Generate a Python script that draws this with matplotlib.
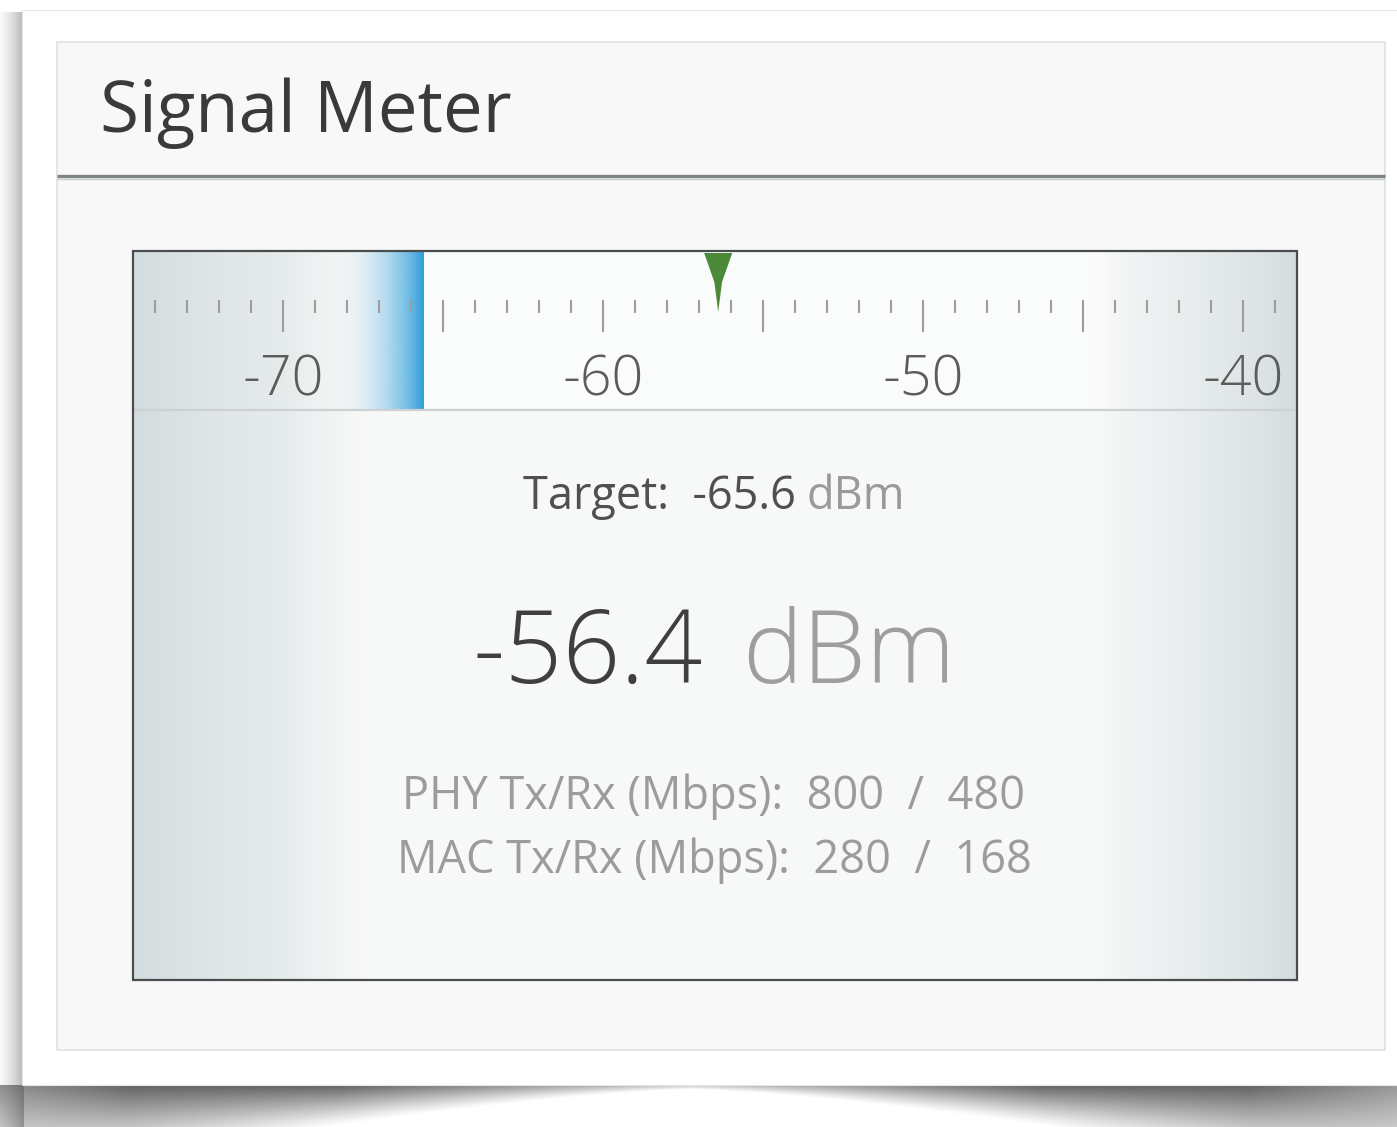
import numpy as np
import matplotlib.pyplot as plt
from matplotlib.patches import Rectangle, Polygon
from matplotlib.colors import to_rgb

# values read from the widget
title = "Signal Meter"
scale_range = (-74.7, -38.3)          # dBm visible on the meter
major_ticks = [-70, -60, -50, -40]
signal_dbm = -56.4
target_dbm = -65.6
phy_rates = (800, 480)
mac_rates = (280, 168)

FONT = ['Open Sans', 'DejaVu Sans']
W, H = 1397, 1127

fig = plt.figure(figsize=(W / 100, H / 100), dpi=100)
bg = fig.add_axes([0, 0, 1, 1])
bg.set_xlim(0, W)
bg.set_ylim(H, 0)
bg.axis('off')

# --- card with drop shadows ---
sx = np.linspace(0, 1, 40)
left_sh = np.zeros((2, 40, 4))
left_sh[..., :3] = 0.35
left_sh[..., 3] = np.clip((sx - 0.25) / 0.75, 0, 1) ** 1.6 * 0.45
bg.imshow(left_sh, extent=(-16, 24, 1127, 12), aspect='auto', zorder=1)

xs = np.arange(W)
ys = np.arange(0, 42)
d = np.abs(xs - 690) / 700.0
thick = 4 + 95 * d ** 1.4
fall = np.clip(1 - ys[:, None] / thick[None, :], 0, 1) ** 1.2
amp = 0.3 + 0.55 * np.clip(d * 2.0, 0, 1)
amp = amp * np.where(d > 0.8, 1 - (d - 0.8) * 1.6, 1)
bot_sh = np.zeros((len(ys), W, 4))
bot_sh[..., :3] = 0.28
bot_sh[..., 3] = fall * amp[None, :]
bg.imshow(bot_sh, extent=(0, W, 1127, 1085), aspect='auto', zorder=1)

bg.add_patch(Rectangle((22, 10), W, 1075, fc='white', ec='#e6e6e6', lw=0.8, zorder=2))

# inner panel + header
bg.add_patch(Rectangle((57, 42), 1328, 1008, fc='#f8f8f8', ec='#e1e1e1', lw=1.2, zorder=3))
bg.plot([57, 1385], [176, 176], color='#7d8587', lw=2.4, zorder=4, solid_capstyle='butt')
bg.plot([57, 1385], [178.5, 178.5], color='#c9cecf', lw=1.0, zorder=4, solid_capstyle='butt')
bg.text(100, 132, title, family=FONT, fontsize=51, color='#3a3a3a', va='baseline', zorder=5)

# --- meter box ---
mx0, mx1, my0, my1 = 133, 1297, 251, 980
ax = fig.add_axes([mx0 / W, 1 - my1 / H, (mx1 - mx0) / W, (my1 - my0) / H])
ax.set_xlim(*scale_range)
ax.set_ylim(my1, my0)
ax.axis('off')


def px2v(px):
    return scale_range[0] + (px - mx0) / (mx1 - mx0) * (scale_range[1] - scale_range[0])


stops_px = [133, 175, 215, 285, 330, 365, 1100, 1150, 1200, 1250, 1297]
stops_c = ['#d3dcde', '#d9e1e3', '#e0e6e7', '#e6ebec', '#f2f4f4', '#f8f8f8',
           '#f7f8f8', '#edf1f1', '#e6ebec', '#dfe5e6', '#d4dcde']
gx = np.arange(mx0, mx1)
grad = np.stack([np.interp(gx, stops_px, [to_rgb(c)[k] for c in stops_c]) for k in range(3)], axis=-1)
ax.imshow(grad[None, :, :], extent=(scale_range[0], scale_range[1], my1, my0), aspect='auto', zorder=0)

# top strip slightly whiter in the middle
strip = np.ones((1, len(gx), 4))
strip[..., 3] = np.clip(np.interp(gx, [330, 420, 1080, 1130], [0, 0.5, 0.5, 0]), 0, 1)
ax.imshow(strip, extent=(scale_range[0], scale_range[1], 410, my0), aspect='auto', zorder=1)

# blue target bar
bx = np.linspace(0, 1, 200)
blue = np.zeros((1, 200, 4))
blue[..., :3] = to_rgb('#2f9fdb')
blue[..., 3] = bx ** 2.2
ax.imshow(blue, extent=(px2v(325), target_dbm, 410, my0), aspect='auto', zorder=2)

# scale ticks
minor = np.arange(-74, -38)
short = minor[minor % 5 != 0]
longt = minor[minor % 5 == 0]
ax.vlines(short, 300, 313, color='#9d9d9d', lw=1.5, zorder=3)
ax.vlines(longt, 300, 332, color='#9d9d9d', lw=1.5, zorder=3)
for v in major_ticks:
    ax.text(v, 381, str(v), family=FONT, fontsize=40, fontweight='light',
            color='#5c5c5c', ha='center', va='center', zorder=4)
ax.hlines(410, *scale_range, color='#cdd1d2', lw=1.6, zorder=4)

# signal marker
hw = 0.44
ax.add_patch(Polygon([(signal_dbm - hw, my0 + 2), (signal_dbm + hw, my0 + 2),
                      (signal_dbm + 0.12, 282), (signal_dbm, 312),
                      (signal_dbm - 0.12, 282)], closed=True,
                     fc='#4c8a3a', ec='none', zorder=5))

# overlay for border and readouts
top = fig.add_axes([0, 0, 1, 1])
top.set_xlim(0, W)
top.set_ylim(H, 0)
top.axis('off')
top.patch.set_alpha(0)
top.add_patch(Rectangle((mx0, my0), mx1 - mx0, my1 - my0, fc='none', ec='#4a4d4e', lw=1.6, zorder=6))

renderer = fig.canvas.get_renderer()


def line(xc, y, parts, size, gap, weight='normal'):
    ts = [top.text(0, y, s, color=c, family=FONT, fontsize=size, fontweight=weight,
                   va='baseline', ha='left', zorder=7) for s, c in parts]
    ws = [t.get_window_extent(renderer).width for t in ts]
    total = sum(ws) + gap * (len(ts) - 1)
    x = xc - total / 2
    for t, w in zip(ts, ws):
        t.set_x(x)
        x += w + gap


xc = 714
line(xc, 509, [("Target:  %.1f" % target_dbm, '#505050'), ("dBm", '#9a9a9a')], 32.5, 11)
line(xc, 683, [("%.1f" % signal_dbm, '#3f3f3f'), ("dBm", '#9e9e9e')], 73, 40, weight='light')
line(xc, 809, [("PHY Tx/Rx (Mbps):  %d  /  %d" % phy_rates, '#9c9c9c')], 32.5, 0)
line(xc, 873, [("MAC Tx/Rx (Mbps):  %d  /  %d" % mac_rates, '#9c9c9c')], 32.5, 0)

fig.savefig('out.png', dpi=100)
